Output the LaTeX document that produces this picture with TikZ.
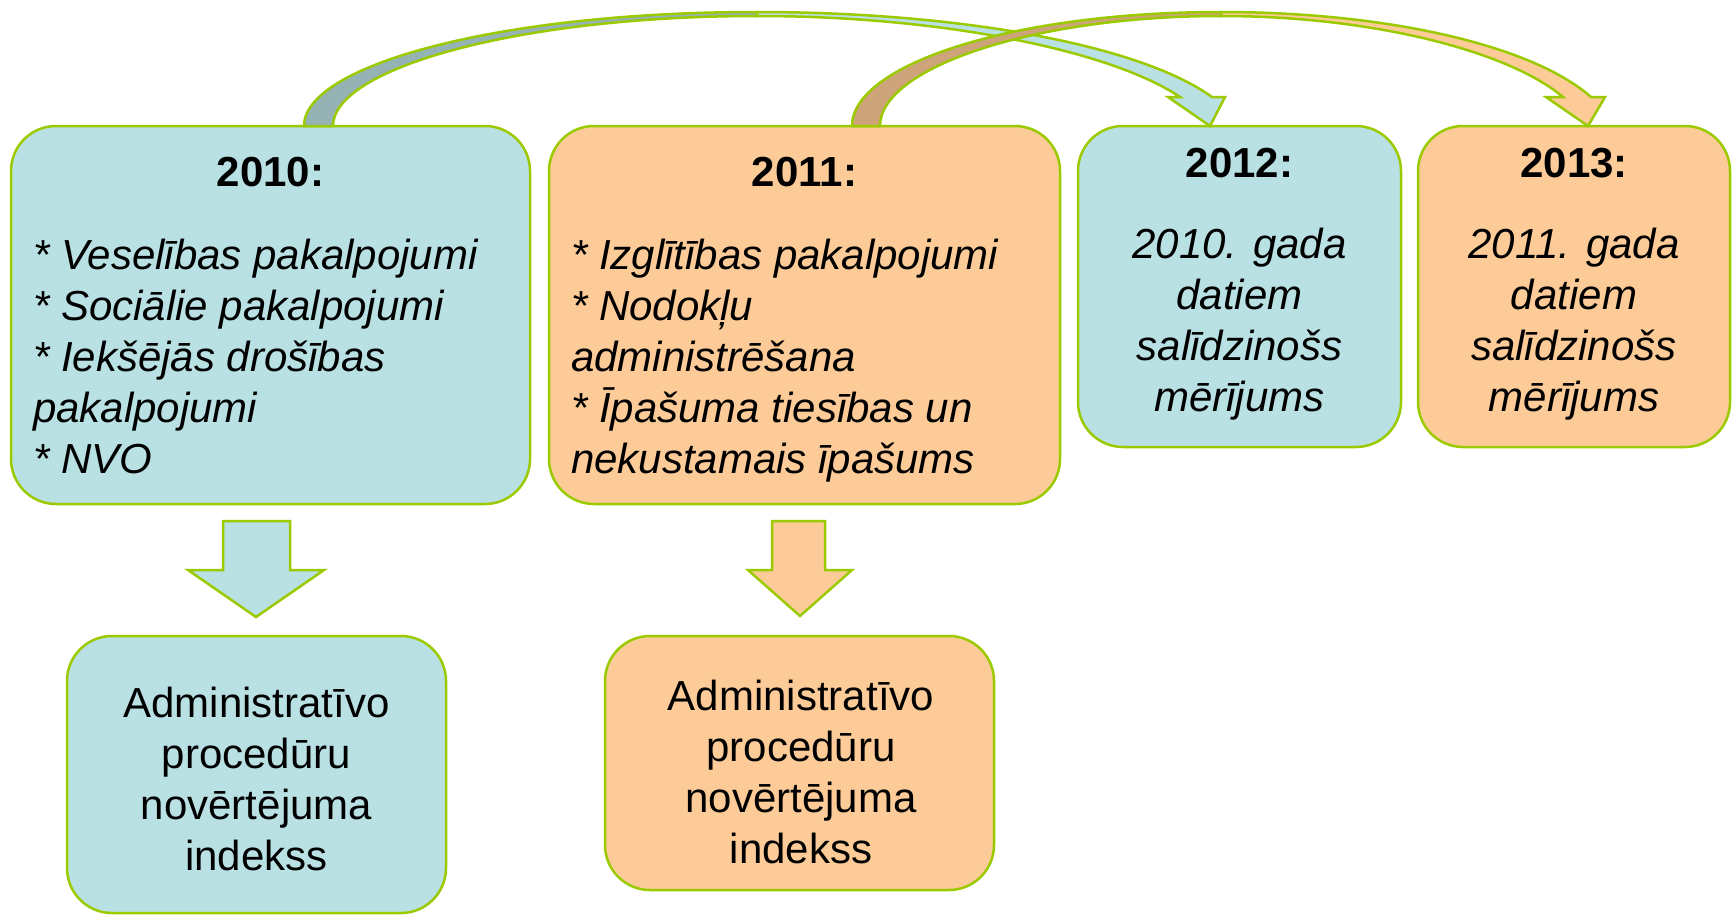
\documentclass[tikz,border=0pt]{standalone}
\usepackage{fontspec}
\setmainfont{Liberation Sans}
\definecolor{bfill}{RGB}{185,224,227}
\definecolor{ofill}{RGB}{252,203,152}
\definecolor{bback}{RGB}{149,178,181}
\definecolor{oback}{RGB}{205,164,122}
\definecolor{lgreen}{RGB}{155,202,0}
\begin{document}
\begin{tikzpicture}[x=1pt,y=-1pt,
  box/.style={draw=lgreen, line width=2.5pt, rounded corners=45pt, inner sep=0pt},
  txt/.style={inner sep=0pt, font=\fontsize{42}{51}\selectfont},
  itxt/.style={inner sep=0pt, font=\fontsize{42}{51}\selectfont\itshape},
  hdr/.style={inner sep=0pt, anchor=base, font=\fontsize{42}{51}\selectfont\bfseries},
  arr/.style={draw=lgreen, line width=2.5pt, line join=miter}
]
\useasboundingbox (0,0) rectangle (1732,914);

% boxes
\node[box, fill=bfill, minimum width=519pt, minimum height=378pt] (b2010) at (270.5,315) {};
\node[box, fill=ofill, minimum width=511pt, minimum height=378pt] (b2011) at (804.5,315) {};
\node[box, fill=bfill, minimum width=323pt, minimum height=321pt] (b2012) at (1239.5,286.5) {};
\node[box, fill=ofill, minimum width=312pt, minimum height=321pt] (b2013) at (1574,286.5) {};
\node[box, fill=bfill, minimum width=379pt, minimum height=277pt] (idxA) at (256.5,774.5) {};
\node[box, fill=ofill, minimum width=389pt, minimum height=254pt] (idxB) at (799.5,763) {};

% down block arrows
\filldraw[arr, fill=bfill] (223,521) -- (290,521) -- (290,570) -- (324,570) -- (256,617) -- (188,570) -- (223,570) -- cycle;
\filldraw[arr, fill=ofill] (772,521) -- (825,521) -- (825,570) -- (852,570) -- (800,616) -- (748,570) -- (772,570) -- cycle;

% curved arrow 2010 -> 2012
\filldraw[arr, fill=bback] (304,126) .. controls (304,65) and (500,12) .. (757,12)
  -- (757,16) .. controls (520,16) and (333,68) .. (333,126) -- cycle;
\filldraw[arr, fill=bfill] (757,12) .. controls (960,12) and (1140,45) .. (1212,97)
  -- (1225,97) -- (1210,126) -- (1168,97) -- (1180,97)
  .. controls (1110,50) and (940,16) .. (757,16) -- cycle;

% curved arrow 2011 -> 2013
\filldraw[arr, fill=ofill] (1221,12) .. controls (1386,12) and (1532,45) .. (1591,97)
  -- (1605,97) -- (1588,126) -- (1546,97) -- (1563,97)
  .. controls (1507,50) and (1369,16) .. (1221,16) -- cycle;
\filldraw[arr, fill=oback] (852,126) .. controls (852,65) and (1012,12) .. (1221,12)
  -- (1221,16) .. controls (1033,16) and (880,68) .. (880,126) -- cycle;

% texts
\node[hdr] (h2010) at (270.5,186) {2010:};
\node[itxt, anchor=north west, align=left] (l2010) at (33,236)
  {\rule{0pt}{33pt}* Veselības pakalpojumi\\* Sociālie pakalpojumi\\* Iekšējās drošības\\pakalpojumi\\* NVO};
\node[hdr] (h2011) at (804.5,186) {2011:};
\node[itxt, anchor=north west, align=left] (l2011) at (571,236)
  {\rule{0pt}{33pt}* Izglītības pakalpojumi\\* Nodokļu\\administrēšana\\* Īpašuma tiesības un\\nekustamais īpašums};
\node[hdr] (h2012) at (1239.5,177) {2012:};
\node[itxt, anchor=north, align=center] (l2012) at (1239.5,225)
  {\rule{0pt}{33pt}2010. gada\\datiem\\salīdzinošs\\mērījums};
\node[hdr] (h2013) at (1574,177) {2013:};
\node[itxt, anchor=north, align=center] (l2013) at (1574,225)
  {\rule{0pt}{33pt}2011. gada\\datiem\\salīdzinošs\\mērījums};
\node[txt, anchor=north, align=center] (tA) at (256.5,684)
  {\rule{0pt}{33pt}Administratīvo\\procedūru\\novērtējuma\\indekss};
\node[txt, anchor=north, align=center] (tB) at (801,677)
  {\rule{0pt}{33pt}Administratīvo\\procedūru\\novērtējuma\\indekss};
\end{tikzpicture}
\end{document}
